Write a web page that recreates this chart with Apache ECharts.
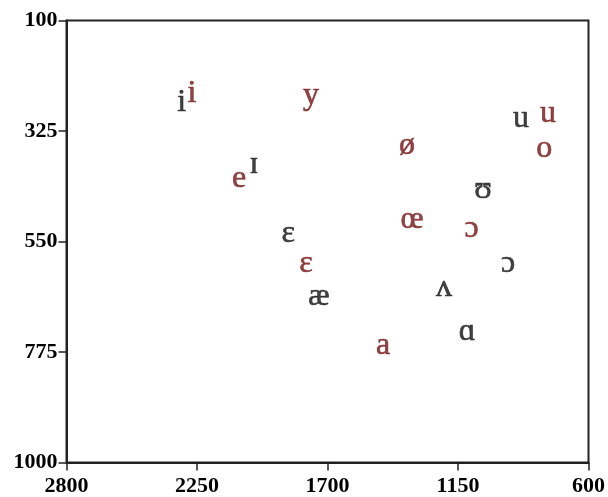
<!DOCTYPE html>
<html>
<head>
<meta charset="utf-8">
<script src="https://cdn.jsdelivr.net/npm/echarts@6/dist/echarts.min.js"></script>
<style>
  html, body { margin: 0; padding: 0; background: #fff; }
  #chart { width: 608px; height: 497px; }
</style>
</head>
<body>
<div id="chart"></div>
<script>
// Vowel space: second formant (F2, Hz) across, first formant (F1, Hz) down
const f2Ticks = [600, 1150, 1700, 2250, 2800];
const f1Ticks = [100, 325, 550, 775, 1000];

// First vowel set (black)
const blackVowels = ['i', 'ɪ', 'ɛ', 'æ', 'ʌ', 'ɑ', 'ɔ', 'ʊ', 'u'];
const blackF2 = [2314, 2010, 1866, 1736, 1209, 1112, 939, 1045, 884];
const blackF1 = [268, 394, 533, 663, 643, 734, 594, 445, 299];

// Second vowel set (dark red)
const redVowels = ['i', 'y', 'e', 'ø', 'ɛ', 'œ', 'a', 'ɔ', 'o', 'u'];
const redF2 = [2271, 1770, 2073, 1365, 1791, 1344, 1466, 1093, 787, 771];
const redF1 = [248, 252, 421, 354, 594, 506, 761, 523, 360, 290];

const SERIF = '"Liberation Serif", "DejaVu Serif", serif';

function vowelSeries(names, f2, f1, color) {
  return {
    type: 'scatter',
    symbolSize: 0,
    silent: true,
    data: names.map((n, k) => ({ value: [f2[k], f1[k]], name: n })),
    label: {
      show: true,
      position: 'inside',
      formatter: p => p.name,
      color: color,
      fontFamily: SERIF,
      fontSize: 32,
      fontWeight: 'normal',
      textBorderColor: color,
      textBorderWidth: 0.6
    }
  };
}

const axisText = {
  color: '#000',
  fontFamily: SERIF,
  fontWeight: 'bold',
  fontSize: 22,
  formatter: v => String(v)
};

const chart = echarts.init(document.getElementById('chart'), null, { renderer: 'canvas' });
chart.setOption({
  animation: false,
  backgroundColor: '#fff',
  grid: {
    left: 66.5, right: 19.5, top: 20.5, bottom: 34.5,
    show: true, borderColor: '#222', borderWidth: 2,
    backgroundColor: 'transparent',
    outerBoundsMode: 'none'
  },
  xAxis: {
    type: 'value',
    min: 600, max: 2800,
    inverse: true,
    splitLine: { show: false },
    axisLine: { show: true, lineStyle: { color: '#222', width: 2 } },
    axisTick: { show: true, inside: false, length: 8, customValues: f2Ticks,
                lineStyle: { color: '#222', width: 1.5 } },
    axisLabel: Object.assign({ margin: 13, customValues: f2Ticks }, axisText)
  },
  yAxis: {
    type: 'value',
    min: 100, max: 1000,
    inverse: true,
    splitLine: { show: false },
    axisLine: { show: true, lineStyle: { color: '#222', width: 2 } },
    axisTick: { show: true, inside: false, length: 8, customValues: f1Ticks,
                lineStyle: { color: '#222', width: 1.5 } },
    axisLabel: Object.assign({ margin: 9, customValues: f1Ticks }, axisText)
  },
  series: [
    vowelSeries(blackVowels, blackF2, blackF1, '#111111'),
    vowelSeries(redVowels, redF2, redF1, '#761414')
  ]
});
</script>
</body>
</html>
